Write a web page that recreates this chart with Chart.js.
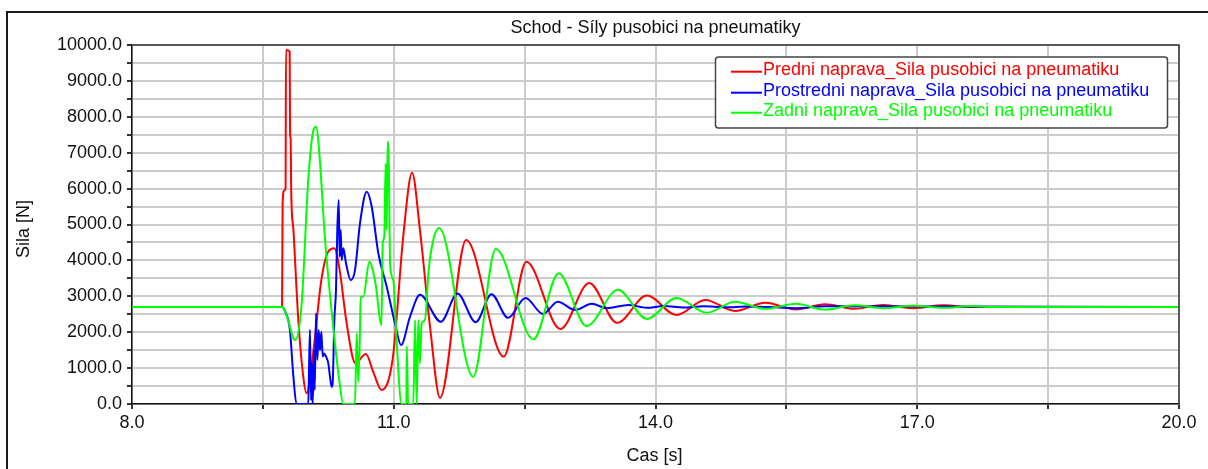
<!DOCTYPE html>
<html>
<head>
<meta charset="utf-8">
<script src="https://cdn.jsdelivr.net/npm/chart.js@4/dist/chart.umd.min.js"></script>
<style>
 html, body { margin: 0; padding: 0; background: #fff; }
 #wrap { width: 1208px; height: 469px; }
</style>
</head>
<body>
<div id="wrap"><canvas id="chart" width="1208" height="469"></canvas></div>
<script>
/* ── DATA ────────────────────────────────────────────────── */
const TITLE = 'Schod - Síly pusobici na pneumatiky';
const X_TITLE = 'Cas [s]';
const Y_TITLE = 'Sila [N]';
const LABELS = [
 'Predni naprava_Sila pusobici na pneumatiku',
 'Prostredni naprava_Sila pusobici na pneumatiku',
 'Zadni naprava_Sila pusobici na pneumatiku'
];
const COLORS = ['#ff0000', '#0000ff', '#00ff00'];

const redT = [8.0, 9.72, 9.726, 9.745, 9.760, 9.765, 9.807, 9.812, 9.818, 9.825, 9.85, 9.906, 9.963, 10.0,
 10.08, 10.17, 10.25, 10.32, 10.38, 10.46, 10.56, 10.68, 10.77, 10.86, 10.99, 11.11, 11.21, 11.30, 11.42,
 11.53, 11.83, 12.26, 12.52, 12.91, 13.24, 13.56, 13.90, 14.24, 14.57, 14.91, 15.26, 15.61, 15.94, 16.28,
 16.61, 16.95, 17.30, 17.62, 20.0];
const redF = [2700, 2700, 5600, 5950, 6000, 9860, 9820, 7500, 7400, 5900, 4850, 2340, 760, 300,
 1500, 3450, 4250, 4340, 3730, 2250, 1140, 1390, 860, 390, 1300, 4700, 6440, 4850, 2060,
 170, 4570, 1320, 3960, 2090, 3370, 2260, 3020, 2480, 2900, 2590, 2820, 2630, 2780, 2650,
 2760, 2670, 2750, 2700, 2700];

const blueT = [8.0, 9.72, 9.76, 9.81, 9.85, 9.885, 10.021, 10.030, 10.040, 10.052, 10.063, 10.071, 10.086,
 10.094, 10.109, 10.124, 10.140, 10.155, 10.170, 10.186, 10.201, 10.224, 10.250, 10.269, 10.289, 10.300,
 10.319, 10.338, 10.353, 10.369, 10.380, 10.392, 10.403, 10.422, 10.453, 10.507, 10.556, 10.613, 10.690,
 10.747, 10.823, 10.919, 11.014, 11.083, 11.186, 11.301, 11.54, 11.73, 11.94, 12.12, 12.31, 12.51, 12.71,
 12.88, 13.08, 13.27, 13.44, 13.69, 13.90, 14.10, 14.32, 14.55, 14.80, 15.05, 15.30, 15.61, 15.94, 20.0];
const blueF = [2700, 2700, 2550, 2060, 760, 0, 0, 1130, 2060, 100, 1130, 0, 1500,
 390, 2530, 1230, 2060, 1500, 2010, 1320, 1410, 1320, 1130, 760, 480, 580,
 2340, 3170, 4850, 5680, 4100, 4850, 4010, 4340, 3920, 3450, 3730, 5030, 5910,
 5500, 4200, 3270, 2250, 1640, 2430, 3040, 2290, 3080, 2280, 3060, 2400, 2950, 2510,
 2850, 2620, 2790, 2670, 2760, 2680, 2730, 2690, 2720, 2695, 2715, 2700, 2670, 2720, 2700];

const greenT = [8.0, 9.72, 9.76, 9.87, 9.945, 10.02, 10.08, 10.11, 10.15, 10.21, 10.29, 10.38, 10.42, 10.556,
 10.575, 10.594, 10.613, 10.62, 10.651, 10.72, 10.79, 10.86, 10.873, 10.892, 10.907, 10.919, 10.930, 10.945,
 10.957, 10.995, 11.034, 11.09, 11.145, 11.149, 11.165, 11.224, 11.244, 11.263, 11.282, 11.30, 11.32, 11.358,
 11.40, 11.453, 11.52, 11.91, 12.17, 12.60, 12.89, 13.21, 13.57, 13.90, 14.24, 14.59, 14.91, 15.26, 15.61,
 15.94, 16.28, 16.61, 16.95, 17.30, 17.62, 17.85, 20.0];
const greenF = [2700, 2700, 2550, 1780, 2810, 6240, 7630, 7720, 6890, 4660, 2530, 580, 0, 0,
 1970, 620, 2020, 2990, 2990, 3960, 3370, 2200, 4480, 4660, 6700, 4850, 7310, 6500,
 3920, 3450, 1690, 0, 0, 1600, 0, 0, 2340, 0, 2340, 1130, 2250, 2340,
 3730, 4570, 4900, 760, 4320, 1800, 3640, 2170, 3180, 2370, 2950, 2540, 2850, 2650, 2790,
 2630, 2750, 2670, 2740, 2680, 2730, 2700, 2700];

const X_MIN = 8, X_MAX = 20, X_STEP = 1.5;
const Y_MIN = 0, Y_MAX = 10000, Y_STEP = 500;

/* ── HELPERS ─────────────────────────────────────────────── */
const FONT = '"Liberation Sans", Arial, Helvetica, sans-serif';
const pts = (ts, fs) => ts.map((t, i) => ({ x: t, y: fs[i] }));
const series = [pts(redT, redF), pts(blueT, blueF), pts(greenT, greenF)];

/* ── DECORATION PLUGIN ───────────────────────────────────── */
const deco = {
 id: 'deco',
 beforeDraw(chart) {
 const c = chart.ctx;
 c.save();
 c.fillStyle = '#fff';
 c.fillRect(0, 0, chart.width, chart.height);
 c.restore();
 },
 afterDraw(chart) {
 const c = chart.ctx, a = chart.chartArea;
 c.save();
 // outer frame (top + left)
 c.strokeStyle = '#1a1a1a';
 c.lineWidth = 2;
 c.beginPath();
 c.moveTo(7, chart.height); c.lineTo(7, 12); c.lineTo(chart.width, 12);
 c.stroke();
 // plot box top + right
 c.strokeStyle = '#333';
 c.lineWidth = 1.5;
 c.beginPath();
 c.moveTo(a.left, a.top); c.lineTo(a.right, a.top); c.lineTo(a.right, a.bottom);
 c.stroke();

 // titles
 c.fillStyle = '#111';
 c.font = '18px ' + FONT;
 c.textAlign = 'center';
 c.textBaseline = 'alphabetic';
 c.fillText(TITLE, 655.5, 32.5);
 c.fillText(X_TITLE, 654.5, 460.5);
 c.save();
 c.translate(28.5, 229);
 c.rotate(-Math.PI / 2);
 c.fillText(Y_TITLE, 0, 0);
 c.restore();

 // legend box
 const bx = 715.5, by = 57, bw = 452, bh = 71, r = 3;
 c.fillStyle = '#fff';
 c.strokeStyle = '#444';
 c.lineWidth = 1.5;
 c.beginPath();
 c.roundRect(bx, by, bw, bh, r);
 c.fill();
 c.stroke();
 c.textAlign = 'left';
 const lineY = [71.7, 92.7, 112.7], textY = [75, 95.7, 116];
 LABELS.forEach((lab, i) => {
 c.strokeStyle = COLORS[i];
 c.lineWidth = 2;
 c.beginPath();
 c.moveTo(731, lineY[i]); c.lineTo(762, lineY[i]);
 c.stroke();
 c.fillStyle = COLORS[i];
 c.fillText(lab, 763, textY[i]);
 });
 c.restore();
 }
};

/* ── CHART ───────────────────────────────────────────────── */
Chart.defaults.font.family = FONT;
Chart.defaults.font.size = 18;
Chart.defaults.color = '#111';

new Chart(document.getElementById('chart'), {
 type: 'line',
 data: {
 datasets: series.map((d, i) => ({
 label: LABELS[i],
 data: d,
 borderColor: COLORS[i],
 backgroundColor: COLORS[i],
 borderWidth: 2,
 pointRadius: 0,
 cubicInterpolationMode: 'monotone',
 fill: false,
 order: 2 - i
 }))
 },
 options: {
 responsive: false,
 animation: false,
 events: [],
 layout: { padding: { top: 45, right: 29, bottom: 0, left: 0 } },
 plugins: { legend: { display: false }, title: { display: false }, tooltip: { enabled: false } },
 scales: {
 x: {
 type: 'linear',
 min: X_MIN, max: X_MAX,
 afterFit: s => { s.height = 65; },
 ticks: {
 stepSize: X_STEP, autoSkip: false, maxRotation: 0, padding: 3,
 callback: v => Math.abs((v - X_MIN) % 3) < 1e-6 ? v.toFixed(1) : ''
 },
 grid: { color: '#cccccc', lineWidth: 2, tickLength: 5, tickColor: '#333' },
 border: { color: '#111', width: 1.5 }
 },
 y: {
 min: Y_MIN, max: Y_MAX,
 afterFit: s => { s.width = 132; },
 ticks: {
 stepSize: Y_STEP, autoSkip: false, padding: 5,
 callback: v => v % 1000 === 0 ? v.toFixed(1) : ''
 },
 grid: { color: '#cccccc', lineWidth: 2, tickLength: 5, tickColor: '#333' },
 border: { color: '#111', width: 1.5 }
 }
 }
 },
 plugins: [deco]
});
</script>
</body>
</html>
